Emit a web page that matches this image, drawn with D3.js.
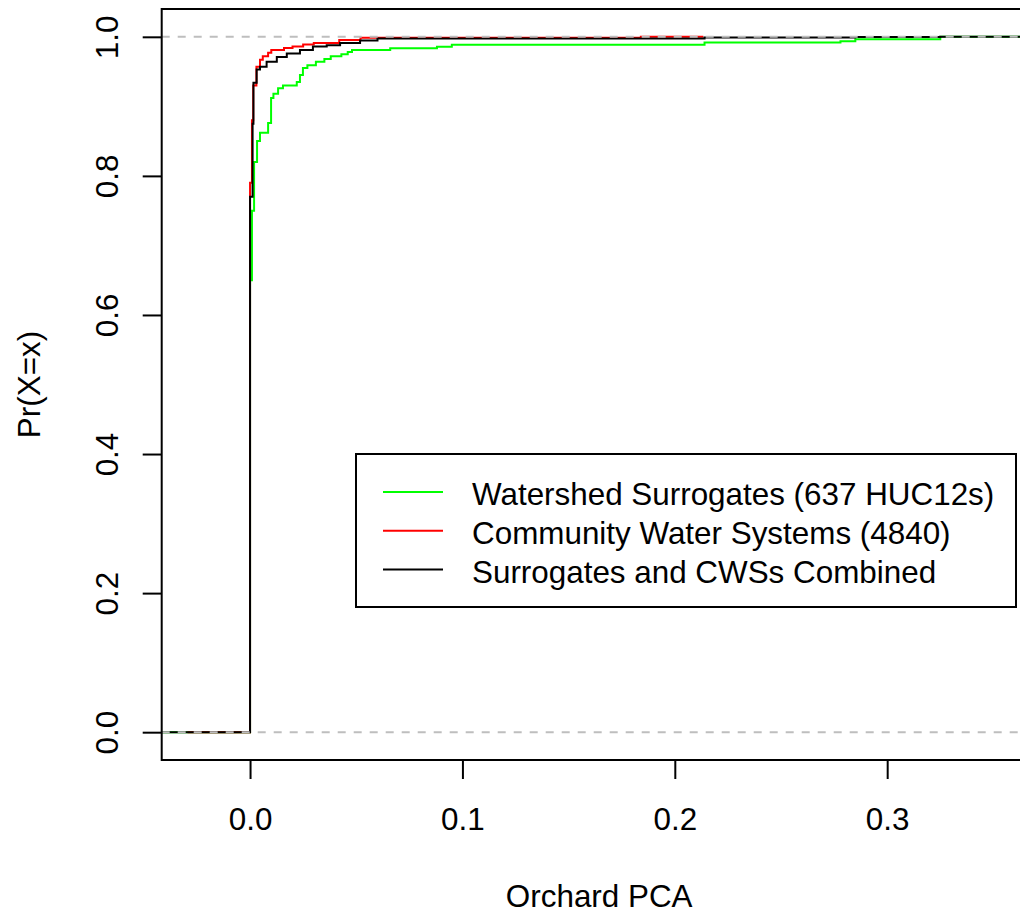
<!DOCTYPE html>
<html><head><meta charset="utf-8">
<script src="https://cdn.jsdelivr.net/npm/d3@7"></script>
<style>body{margin:0;background:#fff} text{font-family:"Liberation Sans",Arial,sans-serif;fill:#000}</style>
</head><body><svg id="c" width="1020" height="918"></svg>
<script>
// ---- data ----
const seriesNames = ["Watershed Surrogates (637 HUC12s)", "Community Water Systems (4840)", "Surrogates and CWSs Combined"];
const seriesColors = ["#00ff00", "#ff0000", "#000000"];
// ECDF jump locations (x) and cumulative probability after the jump (y)
const greenX = [0, 0.0009, 0.0019, 0.0033, 0.0047, 0.0085, 0.0099, 0.011, 0.0132, 0.0155, 0.022, 0.0235, 0.0249, 0.027, 0.031, 0.035, 0.038, 0.043, 0.046, 0.048, 0.066, 0.088, 0.095, 0.214, 0.278, 0.285, 0.325];
const greenY = [0.65, 0.75, 0.82, 0.85, 0.862, 0.876, 0.912, 0.918, 0.926, 0.93, 0.935, 0.945, 0.955, 0.959, 0.964, 0.968, 0.972, 0.975, 0.978, 0.981, 0.9835, 0.9856, 0.9885, 0.9917, 0.9938, 0.9966, 1.0];
const redX = [0, 0.0009, 0.0015, 0.003, 0.0047, 0.006, 0.0085, 0.01, 0.016, 0.02, 0.025, 0.03, 0.042, 0.052, 0.184];
const redY = [0.79, 0.88, 0.93, 0.957, 0.967, 0.972, 0.977, 0.981, 0.984, 0.986, 0.989, 0.991, 0.9955, 0.9985, 1.0];
const blackX = [0, 0.0012, 0.0016, 0.0031, 0.0047, 0.0078, 0.0126, 0.0173, 0.0235, 0.0296, 0.0361, 0.0424, 0.0518, 0.06, 0.214, 0.285, 0.325];
const blackY = [0.77, 0.875, 0.934, 0.953, 0.957, 0.964, 0.971, 0.976, 0.981, 0.986, 0.988, 0.991, 0.9947, 0.9975, 0.999, 0.9996, 1.0];
const xTicks = [0, 0.1, 0.2, 0.3];
const yTicks = [0, 0.2, 0.4, 0.6, 0.8, 1.0];
const refLines = [0, 1];
const xLabel = "Orchard PCA";
const yLabel = "Pr(X=x)";
const xDomain = [-0.0416, 0.3704];
const yDomain = [-0.04, 1.04];

// ---- layout ----
const L = 161.7, R = 1036.7, T = 9, B = 760;
const FS = 31.4;
const svg = d3.select("#c");
const x = d3.scaleLinear().domain(xDomain).range([L, R]);
const y = d3.scaleLinear().domain(yDomain).range([B, T]);

svg.append("defs").append("clipPath").attr("id", "clip")
  .append("rect").attr("x", L).attr("y", T).attr("width", R - L).attr("height", B - T);

const plot = svg.append("g").attr("clip-path", "url(#clip)");

const series = [[greenX, greenY], [redX, redY], [blackX, blackY]];
const line = d3.line().x(d => x(d[0])).y(d => y(d[1])).curve(d3.curveStepAfter);
series.forEach(([xs, ys], i) => {
  const dr = 0.16 * (d3.max(xs) - d3.min(xs));
  const pts = [[d3.min(xs) - dr, 0]].concat(xs.map((v, j) => [v, ys[j]]));
  pts.push([d3.max(xs) + dr, ys[ys.length - 1]]);
  plot.append("path").attr("d", line(pts)).attr("fill", "none")
    .attr("stroke", seriesColors[i]).attr("stroke-width", 2);
});

plot.selectAll("line.ref").data(refLines).join("line")
  .attr("x1", L).attr("x2", R).attr("y1", d => y(d)).attr("y2", d => y(d))
  .attr("stroke", "#bebebe").attr("stroke-width", 2).attr("stroke-dasharray", "8,8");

// box
svg.append("rect").attr("x", L).attr("y", T).attr("width", R - L).attr("height", B - T)
  .attr("fill", "none").attr("stroke", "#000").attr("stroke-width", 2);

// axes
const xAxis = d3.axisBottom(x).tickValues(xTicks).tickSize(19).tickPadding(10).tickFormat(d3.format(".1f"));
const gx = svg.append("g").attr("transform", `translate(0,${B})`).call(xAxis);
gx.select(".domain").remove();
gx.selectAll(".tick line").attr("stroke-width", 2);
gx.selectAll(".tick text").attr("font-size", FS).attr("font-family", null).attr("dy", null).attr("y", 70);

const yAxis = d3.axisLeft(y).tickValues(yTicks).tickSize(19).tickFormat(d3.format(".1f"));
const gy = svg.append("g").attr("transform", `translate(${L},0)`).call(yAxis);
gy.select(".domain").remove();
gy.selectAll(".tick line").attr("stroke-width", 2);
gy.selectAll(".tick text").attr("font-size", FS).attr("font-family", null)
  .attr("x", null).attr("dy", null).attr("text-anchor", "middle")
  .attr("transform", `translate(${118 - L},0) rotate(-90)`);
svg.selectAll(".tick text").attr("fill", "#000");

svg.append("text").attr("x", (L + R) / 2).attr("y", 907).attr("text-anchor", "middle")
  .attr("font-size", FS).text(xLabel);
svg.append("text").attr("transform", `translate(40,${(T + B) / 2}) rotate(-90)`)
  .attr("text-anchor", "middle").attr("font-size", FS).text(yLabel);

// legend
const lg = svg.append("g");
lg.append("rect").attr("x", 356).attr("y", 454).attr("width", 660).attr("height", 153)
  .attr("fill", "#fff").attr("stroke", "#000").attr("stroke-width", 2);
seriesNames.forEach((n, i) => {
  const yy = 492 + i * 38.7;
  lg.append("line").attr("x1", 383).attr("x2", 443).attr("y1", yy).attr("y2", yy)
    .attr("stroke", seriesColors[i]).attr("stroke-width", 2);
  lg.append("text").attr("x", 472).attr("y", yy + 2).attr("dy", "0.36em")
    .attr("font-size", FS).text(n);
});
</script></body></html>
